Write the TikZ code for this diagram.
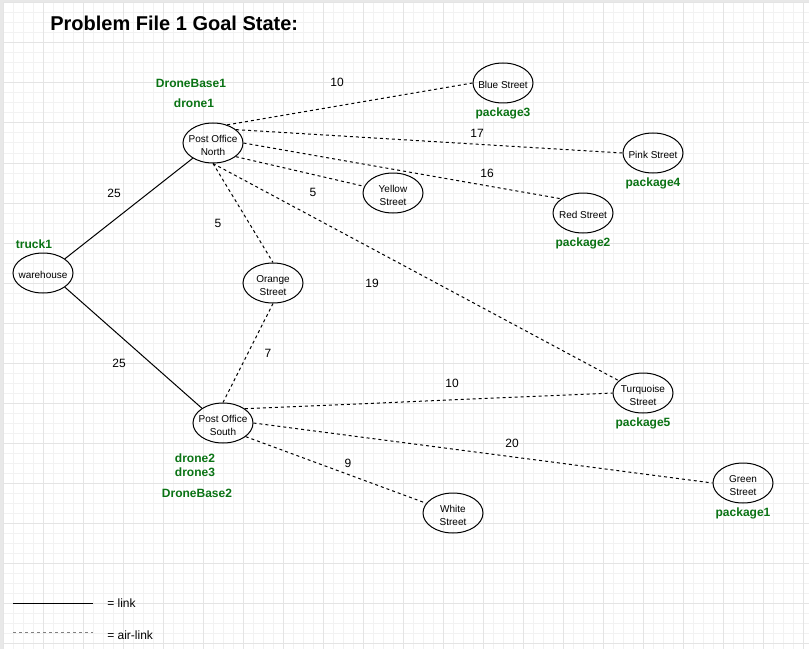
\documentclass[tikz,border=0pt]{standalone}
\usepackage{fontspec}
\setmainfont{Liberation Sans}
\usetikzlibrary{shapes.geometric}
\definecolor{pkg}{RGB}{10,115,20}
\definecolor{minorg}{RGB}{242,242,242}
\definecolor{majorg}{RGB}{228,228,228}
\definecolor{frameg}{RGB}{232,232,232}
\tikzset{
  el/.style={ellipse, draw, line width=0.75pt, minimum width=45pt, minimum height=30pt, inner sep=0pt,
    label={[eltxt]center:{#1}}},
  eltxt/.style={align=center, font=\fontsize{7.5}{10}\selectfont, inner sep=0pt, yshift=-1.8pt},
  grn/.style={text=pkg, font=\fontsize{9}{11}\bfseries\selectfont, inner sep=0pt},
  num/.style={font=\fontsize{9}{11}\selectfont, inner sep=0pt},
  link/.style={line width=0.75pt},
  air/.style={line width=0.75pt, dash pattern=on 2.25pt off 2.25pt},
}
\begin{document}
\begin{tikzpicture}[x=0.75pt,y=-0.75pt]
\useasboundingbox (0,0) rectangle (809,649);
\fill[frameg] (0,0) rectangle (809,649);
\fill[white] (3,3) rectangle (809,649);
\foreach \i in {3,13,...,809} \draw[minorg, line width=0.75pt] (\i,3) -- (\i,649);
\foreach \j in {3,13,...,649} \draw[minorg, line width=0.75pt] (3,\j) -- (809,\j);
\foreach \i in {3,43,...,809} \draw[majorg, line width=0.75pt] (\i,3) -- (\i,649);
\foreach \j in {3,43,...,649} \draw[majorg, line width=0.75pt] (3,\j) -- (809,\j);

\node[font=\fontsize{15}{18}\bfseries\selectfont, anchor=west, inner sep=0pt] (title) at (50,23) {Problem File 1 Goal State:};

% nodes
\node[el={warehouse}] (wh) at (43,273) {};
\node[el={Post Office\\North}] (pon) at (213,143) {};
\node[el={Post Office\\South}] (pos) at (223,423) {};
\node[el={Blue Street}] (blue) at (503,83) {};
\node[el={Pink Street}] (pink) at (653,153) {};
\node[el={Yellow\\Street}] (yellow) at (393,193) {};
\node[el={Red Street}] (red) at (583,213) {};
\node[el={Orange\\Street}] (orange) at (273,283) {};
\node[el={Turquoise\\Street}] (turq) at (643,393) {};
\node[el={Green\\Street}] (green) at (743,483) {};
\node[el={White\\Street}] (white) at (453,513) {};

% green labels
\node[grn] (db1) at (191,83) {DroneBase1};
\node[grn] (d1) at (194,103) {drone1};
\node[grn] (p3) at (503,113) {package3};
\node[grn] (p4) at (653,183) {package4};
\node[grn] (p2) at (583,243) {package2};
\node[grn] (t1) at (34,244) {truck1};
\node[grn] (p5) at (643,423) {package5};
\node[grn] (p1) at (743,513) {package1};
\node[grn] (d2) at (195,458) {drone2};
\node[grn] (d3) at (195,472) {drone3};
\node[grn] (db2) at (197,493) {DroneBase2};

% links
\draw[link] (wh.33) -- (pon.217);
\draw[link] (wh.-33) -- (pos.145);

% air links
\draw[air] (pon.52) -- (blue.west);
\draw[air] (pon.30) -- (pink.west);
\draw[air] (pon.east) -- (red.147);
\draw[air] (pon.-31) -- (yellow.167);
\draw[air] (pon.south) -- (orange.north);
\draw[air] (pon.south) -- (turq.153);
\draw[air] (pos.north) -- (orange.south);
\draw[air] (pos.33) -- (turq.west);
\draw[air] (pos.east) -- (green.west);
\draw[air] (pos.-31) -- (white.160);

% weights
\node[num] (w1) at (337,82) {10};
\node[num] (w2) at (477,133) {17};
\node[num] (w3) at (487,173) {16};
\node[num] (w4) at (313,192) {5};
\node[num] (w5) at (218,223) {5};
\node[num] (w6) at (372,283) {19};
\node[num] (w7) at (114,193) {25};
\node[num] (w8) at (119,363) {25};
\node[num] (w9) at (268,353) {7};
\node[num] (w10) at (452,383) {10};
\node[num] (w11) at (512,443) {20};
\node[num] (w12) at (348,463) {9};

% legend
\coordinate (ls1) at (13,603);
\coordinate (ls2) at (93,603);
\coordinate (la1) at (13,632);
\coordinate (la2) at (93,632);
\draw[link] (ls1) -- (ls2);
\draw[air, draw=gray] (la1) -- (la2);
\node[num, anchor=west] (lg1) at (107,603) {= link};
\node[num, anchor=west] (lg2) at (107,635) {= air-link};
\end{tikzpicture}
\end{document}
